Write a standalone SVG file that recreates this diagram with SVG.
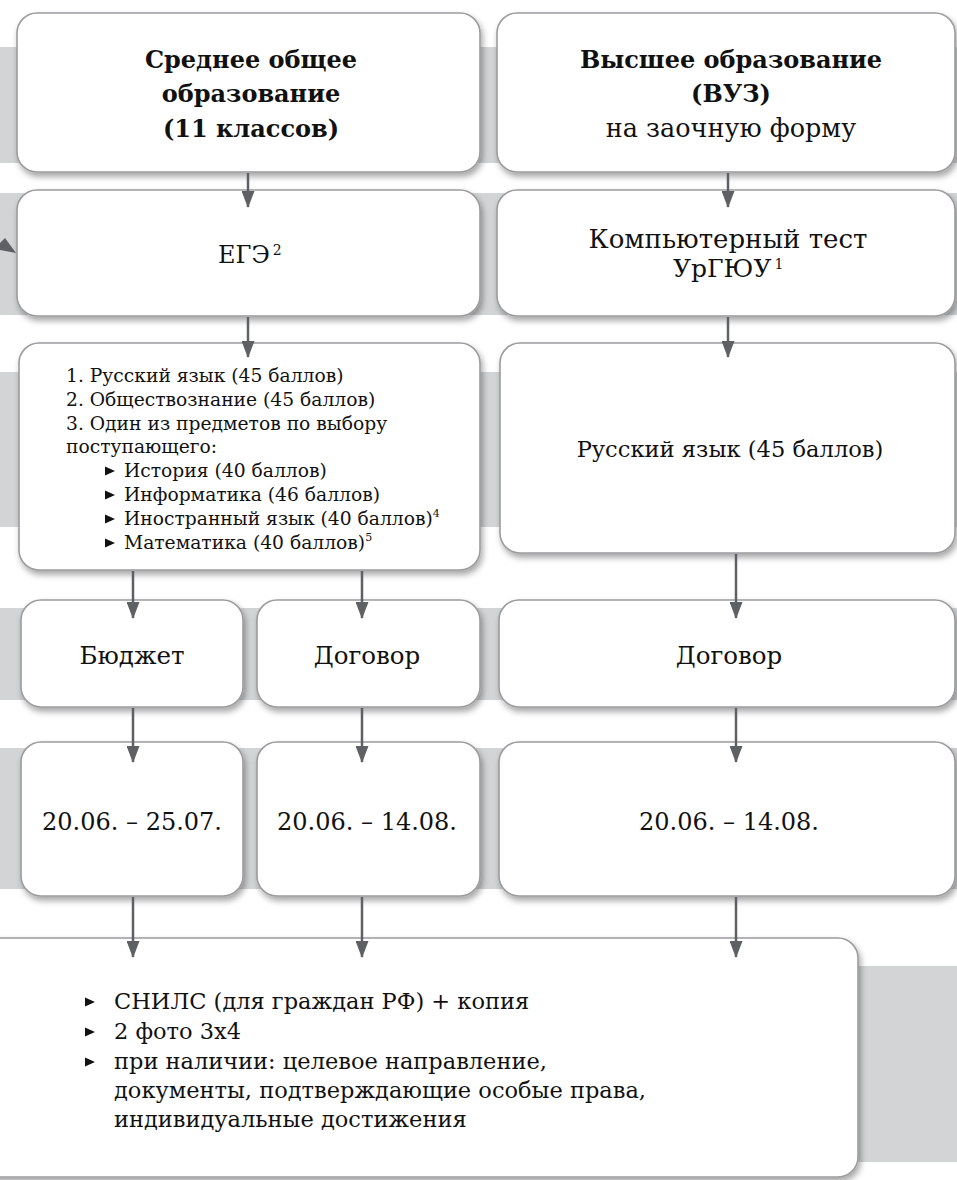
<svg xmlns="http://www.w3.org/2000/svg" width="957" height="1180" viewBox="0 0 957 1180">
<style>
.band{fill:#d3d4d6}
.box{fill:#fff;stroke:#9c9c9e;stroke-width:1.6;filter:url(#sh)}
.t{font-family:"DejaVu Serif","Liberation Serif",serif;fill:#111}
.b{font-weight:bold}
.c{text-anchor:middle}
.conn line{stroke:#5f6063;stroke-width:2.5;marker-end:url(#ah)}
.bul{fill:#111}
</style>
<defs>
<filter id="sh" x="-10%" y="-10%" width="130%" height="140%">
<feDropShadow dx="2" dy="4" stdDeviation="3" flood-color="#000" flood-opacity="0.35"/>
</filter>
<marker id="ah" markerUnits="userSpaceOnUse" markerWidth="17" markerHeight="13" refX="16" refY="6.5" orient="auto">
<path d="M0,0 L17,6.5 L0,13 z" fill="#5f6063"/>
</marker>
<path id="tri" d="M0,-4.5 L10,0 L0,4.5 z"/>
</defs>

<g id="bands">
<rect class="band" x="0" y="47" width="957" height="116"/>
<rect class="band" x="0" y="193" width="957" height="122"/>
<rect class="band" x="0" y="372" width="957" height="155"/>
<rect class="band" x="0" y="608" width="957" height="92"/>
<rect class="band" x="0" y="748" width="957" height="141"/>
<rect class="band" x="0" y="966" width="957" height="196"/>
</g>

<polygon points="16,253 5,238 0,243 0,250" fill="#5f6063"/>

<g id="n-school">
<rect class="box" x="17" y="13" width="463" height="159" rx="20"/>
<text class="t b c" font-size="24" x="251" y="68">Среднее общее</text>
<text class="t b c" font-size="24" x="251" y="102">образование</text>
<text class="t b c" font-size="24" x="251" y="137">(11 классов)</text>
</g>

<g id="n-vuz">
<rect class="box" x="497" y="13" width="458" height="159" rx="20"/>
<text class="t b c" font-size="24" x="731" y="68">Высшее образование</text>
<text class="t b c" font-size="24" x="731" y="102">(ВУЗ)</text>
<text class="t c" font-size="25.5" x="731" y="137">на заочную форму</text>
</g>

<g id="n-ege">
<rect class="box" x="17" y="190" width="463" height="126" rx="20"/>
<text class="t" font-size="24" x="218" y="263">ЕГЭ<tspan font-size="14" dx="3" dy="-8">2</tspan></text>
</g>

<g id="n-test">
<rect class="box" x="497" y="190" width="458" height="126" rx="20"/>
<text class="t c" font-size="26" x="728" y="248">Компьютерный тест</text>
<text class="t" font-size="25" x="673" y="277">УрГЮУ<tspan font-size="14" dx="3" dy="-8">1</tspan></text>
</g>

<g id="n-subjects">
<rect class="box" x="19" y="343" width="461" height="227" rx="20"/>
<g class="t" font-size="18.7">
<text x="66" y="382">1. Русский язык (45 баллов)</text>
<text x="66" y="406">2. Обществознание (45 баллов)</text>
<text x="66" y="430">3. Один из предметов по выбору</text>
<text x="66" y="453">поступающего:</text>
<text x="124" y="477">История (40 баллов)</text>
<text x="124" y="501">Информатика (46 баллов)</text>
<text x="124" y="525">Иностранный язык (40 баллов)<tspan font-size="11" dy="-8">4</tspan></text>
<text x="124" y="549">Математика (40 баллов)<tspan font-size="11" dy="-8">5</tspan></text>
</g>
<g class="bul">
<use href="#tri" x="105" y="471"/>
<use href="#tri" x="105" y="495"/>
<use href="#tri" x="105" y="519"/>
<use href="#tri" x="105" y="543"/>
</g>
</g>

<g id="n-russian">
<rect class="box" x="500" y="343" width="455" height="210" rx="20"/>
<text class="t c" font-size="22.6" x="730" y="457">Русский язык (45 баллов)</text>
</g>

<g id="n-budget">
<rect class="box" x="21" y="600" width="222" height="107" rx="20"/>
<text class="t c" font-size="24.5" x="132" y="664">Бюджет</text>
</g>
<g id="n-contract1">
<rect class="box" x="257" y="600" width="223" height="107" rx="20"/>
<text class="t c" font-size="24.5" x="367" y="664">Договор</text>
</g>
<g id="n-contract2">
<rect class="box" x="499" y="600" width="456" height="107" rx="20"/>
<text class="t c" font-size="24.5" x="729" y="664">Договор</text>
</g>

<g id="n-date1">
<rect class="box" x="21" y="742" width="222" height="154" rx="20"/>
<text class="t c" font-size="24" x="132" y="830">20.06. – 25.07.</text>
</g>
<g id="n-date2">
<rect class="box" x="257" y="742" width="223" height="154" rx="20"/>
<text class="t c" font-size="24" x="367" y="830">20.06. – 14.08.</text>
</g>
<g id="n-date3">
<rect class="box" x="499" y="742" width="456" height="154" rx="20"/>
<text class="t c" font-size="24" x="729" y="830">20.06. – 14.08.</text>
</g>

<g id="n-docs">
<rect class="box" x="-30" y="938" width="888" height="239" rx="20"/>
<g class="t" font-size="22.5">
<text x="114" y="1009">СНИЛС (для граждан РФ) + копия</text>
<text x="114" y="1039">2 фото 3х4</text>
<text x="114" y="1069">при наличии: целевое направление,</text>
<text x="114" y="1098">документы, подтверждающие особые права,</text>
<text x="114" y="1127">индивидуальные достижения</text>
</g>
<g class="bul">
<use href="#tri" x="85" y="1002"/>
<use href="#tri" x="85" y="1032"/>
<use href="#tri" x="85" y="1062"/>
</g>
</g>

<g id="connectors" class="conn">
<line x1="248" y1="173" x2="248" y2="207"/>
<line x1="728" y1="173" x2="728" y2="207"/>
<line x1="248" y1="317" x2="248" y2="357"/>
<line x1="728" y1="317" x2="728" y2="357"/>
<line x1="133" y1="571" x2="133" y2="618"/>
<line x1="362" y1="571" x2="362" y2="618"/>
<line x1="736" y1="554" x2="736" y2="618"/>
<line x1="133" y1="708" x2="133" y2="762"/>
<line x1="362" y1="708" x2="362" y2="762"/>
<line x1="736" y1="708" x2="736" y2="762"/>
<line x1="133" y1="897" x2="133" y2="957"/>
<line x1="362" y1="897" x2="362" y2="957"/>
<line x1="736" y1="897" x2="736" y2="957"/>
</g>
</svg>
